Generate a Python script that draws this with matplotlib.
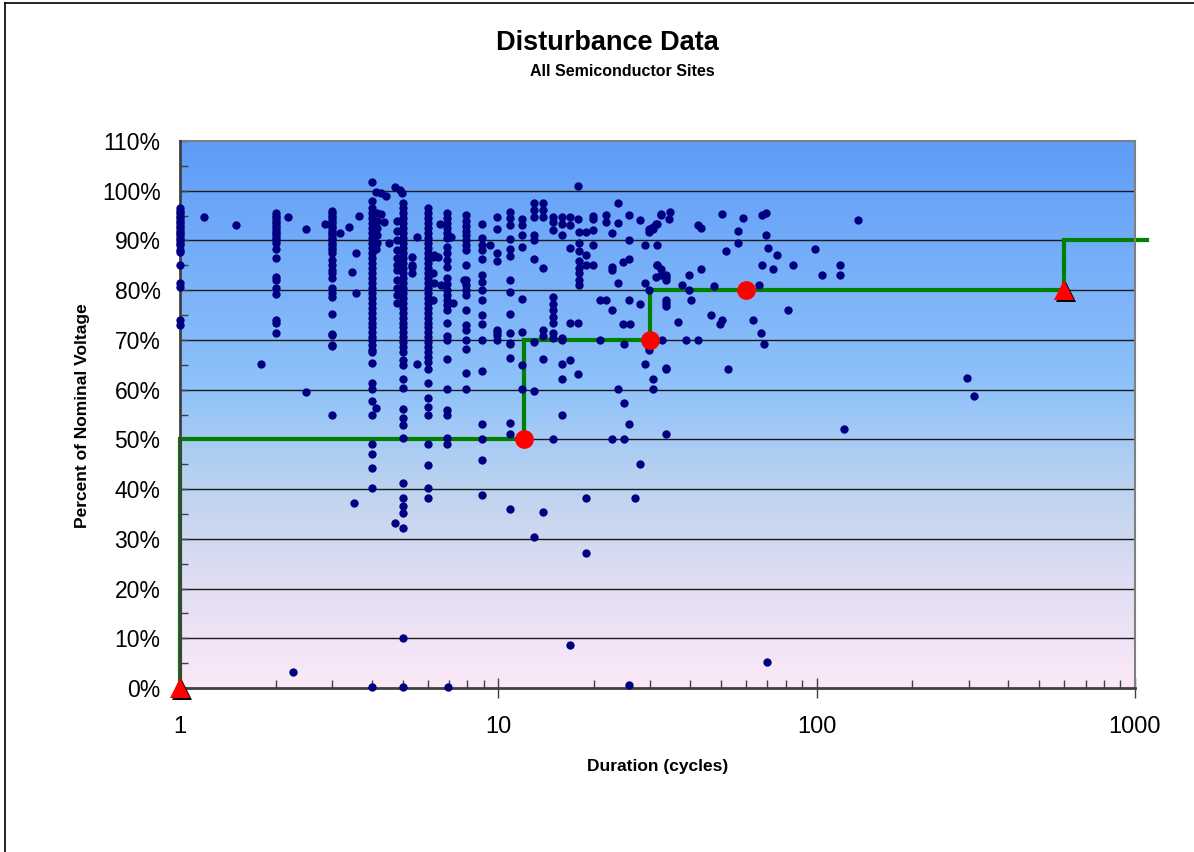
import matplotlib
matplotlib.use("Agg")
import matplotlib.pyplot as plt
import numpy as np
from matplotlib.colors import LinearSegmentedColormap
from matplotlib.lines import Line2D
from matplotlib.transforms import offset_copy
from matplotlib.ticker import FixedLocator, NullFormatter

plt.rcParams['font.family'] = ['Liberation Sans', 'DejaVu Sans']

# ---------------- data ----------------
title = "Disturbance Data"
subtitle = "All Semiconductor Sites"
x_label = "Duration (cycles)"
y_label = "Percent of Nominal Voltage"
x_tick_values = [1, 10, 100, 1000]
x_tick_labels = ["1", "10", "100", "1000"]
y_tick_values = [0, 10, 20, 30, 40, 50, 60, 70, 80, 90, 100, 110]
y_tick_labels = ["0%", "10%", "20%", "30%", "40%", "50%", "60%", "70%", "80%", "90%", "100%", "110%"]

# events on whole-cycle columns (voltage %)
col1_v = [96.5, 96, 95.5, 95, 94.5, 94, 93.5, 93, 92.5, 92, 91.5, 91, 90.5, 90, 89.5, 89,
          88, 87.7, 85, 81.4, 80.6, 74, 73]
col2_v = [95.5, 95, 94.5, 94, 93.5, 93, 92.5, 92, 91.5, 91, 90.5, 90, 89.5, 88.3, 86.5,
          82.6, 82, 80.4, 79.2, 74, 73.4, 71.4]
col3_v = [96, 95.5, 95, 94.5, 94, 93.5, 93, 92.5, 92, 91.5, 91, 90.5, 90, 89.5, 89, 88.5,
          88, 87.5, 86, 85, 84, 83.4, 82.4, 80.4, 79.4, 78.6, 75.2, 71.2, 71, 69, 68.8, 54.9]
col4_v = [101.8, 98.0, 96.5, 95.5, 94.5, 93.5, 92.5, 91.5, 90.5, 89.5, 88.5, 87.5, 86.5,
          85.5, 84.5, 83.5, 82.5, 81.5, 80.5, 79.5, 78.5, 77.5, 76.5, 75.5, 74.5, 73.5,
          72.5, 71.6, 70.6, 70, 69, 68, 67.6, 65.3, 61.3, 60.1, 57.8, 55, 49, 47, 44.2,
          40.2, 0.3]
col5_v = [97.5, 96.5, 95.5, 94.5, 93.5, 92.5, 91.5, 90.5, 89.5, 88.5, 87.5, 86.5, 85.5,
          84.5, 83.5, 82.5, 81.5, 80.5, 79.5, 78.5, 77.5, 76.5, 75.5, 74.5, 73.5, 72.5,
          71.5, 70.5, 69.5, 68.5, 67.5, 66, 65, 62.1, 60.3, 56.1, 54.3, 52.9, 50.3, 41.3,
          38.2, 36.5, 35.2, 32.2, 10.1, 0.3]
col6_v = [96.5, 95.5, 94.5, 93.5, 92.5, 91.5, 90.5, 89.5, 88.5, 87.5, 86.5, 85.5, 84.5,
          83.5, 82.5, 81.5, 80.5, 79.5, 78.5, 77.5, 76.5, 75.5, 74.5, 73.5, 72.5, 71.5,
          70.5, 69.5, 68.5, 67.5, 66.5, 65.5, 64.1, 61.3, 58.3, 56.5, 54.9, 49.1, 44.8,
          40.3, 38.3]

# scattered events (duration in cycles, voltage %)
other_dur = [1.19, 1.5, 1.8, 2.18, 2.26, 2.49, 2.49, 2.85, 3.18, 3.39, 3.46, 3.52, 3.56, 3.56, 3.66,
             4.12, 4.27, 4.43, 4.27, 4.37, 4.14, 4.14, 4.14, 4.54, 4.14, 4.15, 4.15, 4.15, 4.15, 4.15,
             4.73, 4.9, 4.97, 4.73,
             4.8, 4.8, 4.8, 4.8, 4.8, 4.8, 4.8, 4.8, 4.8, 4.8, 4.8,
             5.34, 5.34, 5.34, 5.34, 5.55, 5.55,
             6.25, 6.45, 6.25, 6.25, 6.55, 6.6, 6.3, 6.3,
             6.9, 6.9, 6.9, 6.9, 6.9, 6.9, 6.9, 6.9, 6.9, 6.9, 6.9, 6.9, 6.9, 6.9, 6.9, 6.9, 6.9,
             6.9, 6.9, 6.9, 6.9, 6.9, 6.9, 6.9, 6.9, 6.9, 6.93, 7.12, 7.2,
             7.9, 7.9, 7.9, 7.9, 7.9, 7.9, 7.9, 7.9, 7.9, 7.9, 7.9, 7.9, 7.9, 7.9, 7.9, 7.9, 7.9,
             7.9, 7.9, 7.9, 7.78,
             8.9, 8.9, 8.9, 8.9, 8.9, 8.9, 8.9, 8.9, 8.9, 8.9, 8.9, 8.9, 8.9, 8.9, 8.9, 8.9, 8.9, 9.4,
             9.9, 9.9, 9.9, 9.9, 9.9, 9.9, 9.9, 9.9,
             10.9, 10.9, 10.9, 10.9, 10.9, 10.9, 10.9, 10.9, 10.9, 10.9, 10.9, 10.9, 10.9, 10.9, 10.9,
             10.9,
             11.9, 11.9, 11.9, 11.9, 11.9, 11.9, 11.9, 11.9,
             12.9, 12.9, 12.9, 12.9, 12.9, 12.9, 12.9, 12.9, 12.9,
             13.8, 13.8, 13.8, 13.8, 13.8, 13.8, 13.8, 13.8,
             14.8, 14.8, 14.8, 14.8, 14.8, 14.8, 14.8, 14.8, 14.8, 14.8, 14.8,
             15.8, 15.8, 15.8, 15.8, 15.8, 15.8, 15.8, 15.8,
             16.8, 16.8, 16.8, 16.8, 16.8, 16.8,
             17.8, 17.8, 17.9, 17.9, 17.9, 17.9, 17.9, 17.9, 17.9, 17.9, 17.8, 17.8,
             18.8, 18.8, 18.8, 18.8, 18.8,
             19.8, 19.8, 19.8, 19.8, 19.8,
             20.8, 20.8, 21.8, 21.8, 21.8,
             22.8, 22.8, 22.8, 22.8, 22.8,
             23.8, 23.8, 23.8, 23.8,
             24.7, 24.7, 24.9, 24.9, 24.9,
             25.7, 25.7, 25.7, 25.7, 25.7, 25.7,
             26.0, 26.8, 27.8, 27.8, 27.8, 28.9, 28.9, 28.9,
             29.7, 29.8, 29.8, 29.7, 29.8, 30.5, 30.5, 30.6, 30.6,
             31.3, 31.5, 31.5, 31.5, 31.5, 31.3,
             32.5, 32.5, 32.5, 32.5, 32.7,
             33.6, 33.6, 33.6, 33.6, 33.6, 33.6, 33.6, 33.6, 33.6,
             34.4, 34.7, 36.6, 37.7, 39.0, 39.6, 39.6, 40.3,
             42.4, 43.4, 43.4, 42.5, 46.6, 47.5, 49.6, 50.6, 50.6, 51.9, 52.8,
             56.8, 56.8, 58.5, 63.2, 66.0, 66.7, 67.3, 67.5, 68.1, 69.5, 69.5, 70.0, 70.4,
             73.1, 75.2, 81.2, 84.1, 98.9, 103.9, 118.6, 118.6, 122.3, 135, 297, 311]
other_v = [94.8, 93.1, 65.2, 94.8, 3.2, 92.4, 59.5, 93.4, 91.4, 92.8, 83.7, 37.3, 87.4, 79.4, 95.0,
           99.8, 99.6, 98.9, 95.4, 93.8, 92.3, 91.1, 88.3, 89.4, 56.4, 95.5, 94.0, 92.5, 91.0, 89.5,
           100.8, 100.1, 99.5, 33.1,
           94, 92, 90, 88, 86.5, 85, 84, 82, 80.5, 79, 77.5,
           86.7, 85.0, 83.4, 84.7, 90.7, 65.2,
           86.7, 86.6, 83.4, 78.0, 93.4, 81.0, 87.0, 81.4,
           95.5, 94.5, 93.5, 92.5, 91.5, 90.5, 88.7, 87.5, 86.0, 84.7, 82.4, 81.2, 80.0, 79.0, 78.0,
           77.0, 76.0, 73.3, 70.8, 70.0, 66.1, 60.1, 56.0, 54.9, 50.2, 49.0, 0.3, 90.7, 77.4,
           95.1, 94.0, 93.0, 92.0, 91.0, 90.0, 89.0, 88.1, 85.1, 82.0, 81.0, 80.0, 79.0, 76.0, 72.0,
           70.0, 68.2, 63.3, 60.1, 73.0, 82.0,
           93.4, 90.4, 89.1, 88.1, 86.2, 83.0, 81.7, 80.0, 78.0, 75.1, 73.1, 70.0, 63.7, 53.0, 50.1,
           45.8, 38.8, 89.1,
           94.8, 92.4, 87.4, 85.9, 72.0, 70.0, 71.6, 71.0,
           95.8, 94.5, 93.1, 90.2, 88.2, 86.9, 82.0, 79.7, 75.3, 71.4, 69.4, 66.3, 53.2, 51.0, 35.9,
           69.2,
           94.4, 93.1, 91.1, 88.7, 78.3, 71.6, 65.0, 60.1,
           97.5, 96.2, 94.8, 91.1, 90.1, 86.2, 69.6, 59.8, 30.3,
           97.5, 96.2, 94.8, 84.5, 72.0, 70.7, 66.1, 35.4,
           94.8, 93.8, 92.1, 78.7, 77.3, 76.0, 74.7, 73.3, 71.3, 70.3, 50.1,
           94.8, 93.4, 91.1, 70.3, 70.0, 65.2, 62.1, 54.9,
           94.8, 93.1, 88.4, 73.3, 66.0, 8.6,
           101.0, 94.4, 91.8, 89.5, 87.8, 85.8, 84.5, 83.5, 82.0, 81.0, 73.3, 63.2,
           91.8, 87.1, 85.1, 38.3, 27.1,
           95.0, 94.3, 92.1, 89.1, 85.1,
           78.0, 70.0, 95.1, 93.8, 78.0,
           91.4, 84.7, 84.0, 76.0, 50.1,
           97.6, 93.6, 81.4, 60.1,
           85.7, 73.2, 69.2, 57.3, 50.1,
           95.1, 90.1, 86.2, 78.0, 53.0, 0.7,
           73.2, 38.3, 94.1, 77.2, 45.0, 89.1, 81.4, 65.2,
           92.4, 91.8, 80.0, 68.3, 68.0, 92.8, 92.4, 62.1, 60.1,
           93.4, 93.3, 89.1, 85.1, 85.1, 82.7,
           95.3, 95.1, 84.2, 83.0, 70.0,
           82.7, 83.0, 82.0, 78.0, 76.8, 77.4, 64.1, 64.3, 51.0,
           94.4, 95.8, 73.7, 81.0, 70.0, 83.0, 80.0, 78.0,
           93.1, 92.6, 84.2, 70.0, 75.1, 80.8, 73.1, 95.3, 74.0, 87.9, 64.1,
           91.9, 89.5, 94.6, 74.0, 81.1, 71.4, 85.1, 95.1, 69.2, 95.6, 91.0, 5.3, 88.4,
           84.2, 87.0, 76.0, 85.1, 88.2, 83.0, 85.1, 83.0, 52.1, 94.1, 62.4, 58.7]

# SEMI F47 ride-through curve
curve_dur = [1, 1, 12, 12, 30, 30, 600, 600, 1094]
curve_v = [0, 50, 50, 70, 70, 80, 80, 90, 90]
circle_dur = [12, 30, 60]
circle_v = [50, 70, 80]
tri_dur = [1, 600]
tri_v = [0, 80]

# ---------------- figure ----------------
W, H = 1194, 852
fig = plt.figure(figsize=(W / 100, H / 100), dpi=100)
fig.patch.set_facecolor("white")

L, R, T, B = 180, 1135, 141, 688
ax = fig.add_axes([L / W, 1 - B / H, (R - L) / W, (B - T) / H])
ax.set_xscale("log")
ax.set_xlim(1, 1000)
ax.set_ylim(0, 110)

# background gradient
cmap = LinearSegmentedColormap.from_list(
    "bg", [(0.0, "#FCE9F8"), (0.18, "#E2DEF3"), (0.36, "#BED3EF"),
           (0.55, "#8FC2FA"), (1.0, "#5E9CF8")])
grad = np.linspace(0, 1, 256).reshape(-1, 1)
ax.imshow(grad, cmap=cmap, origin="lower", aspect="auto",
          extent=[0, 1, 0, 1], transform=ax.transAxes, zorder=0)

# gridlines
for yv in y_tick_values[1:-1]:
    ax.axhline(yv, color="#1a1a1a", lw=1.0, zorder=1)

# curve
ax.plot(curve_dur, curve_v, color="#008000", lw=3.0, zorder=2, clip_on=False,
        solid_joinstyle="miter")

# scatter
navy = "#000080"
ms = 6.0
kw = dict(color=navy, ms=ms, mew=0, zorder=5, clip_on=False, linestyle="none", marker="o")
ax.plot([1] * len(col1_v), col1_v, **kw)
ax.plot([2] * len(col2_v), col2_v, **kw)
ax.plot([3] * len(col3_v), col3_v, **kw)
ax.plot([4] * len(col4_v), col4_v, **kw)
ax.plot([5] * len(col5_v), col5_v, **kw)
ax.plot([6] * len(col6_v), col6_v, **kw)
ax.plot(other_dur, other_v, **kw)

# red markers
ax.plot(circle_dur, circle_v, "o", color="#FF0000", ms=13.5, mew=0, zorder=6)
shadow = offset_copy(ax.transData, fig=fig, x=2, y=-2, units="dots")
ax.plot(tri_dur, tri_v, "^", color="black", ms=15, mew=0, zorder=6,
        transform=shadow, clip_on=False)
ax.plot(tri_dur, tri_v, "^", color="#FF0000", ms=15, mew=0, zorder=7, clip_on=False)

# axes styling
for side in ["top", "right"]:
    ax.spines[side].set_color("#808080")
    ax.spines[side].set_linewidth(1.5)
for side in ["left", "bottom"]:
    ax.spines[side].set_color("#404040")
    ax.spines[side].set_linewidth(2.0)
    ax.spines[side].set_zorder(4)

ax.set_xticks(x_tick_values)
ax.set_xticklabels(x_tick_labels, fontsize=17)
ax.xaxis.set_minor_locator(FixedLocator(
    [m * 10 ** k for k in range(3) for m in range(2, 10)]))
ax.xaxis.set_minor_formatter(NullFormatter())
ax.tick_params(axis="x", which="major", direction="inout", length=14, width=1,
               color="#404040", pad=13)
ax.tick_params(axis="x", which="minor", direction="in", length=6, width=1,
               color="#404040")

ax.set_yticks(y_tick_values)
ax.set_yticklabels(y_tick_labels, fontsize=16.5)
ax.yaxis.set_minor_locator(FixedLocator([5 + 10 * k for k in range(11)]))
ax.tick_params(axis="y", which="major", direction="in", length=6, width=1,
               color="#404040", pad=14)
ax.tick_params(axis="y", which="minor", direction="in", length=6, width=1,
               color="#404040")

# texts
fig.text(607 / W, 1 - 43 / H, title, ha="center", va="center",
         fontsize=19.5, fontweight="bold")
fig.text(622 / W, 1 - 71 / H, subtitle, ha="center", va="center",
         fontsize=11.5, fontweight="bold")
fig.text(658 / W, 1 - 767 / H, x_label, ha="center", va="center",
         fontsize=12.5, fontweight="bold")
fig.text(83 / W, 1 - 416 / H, y_label, ha="center", va="center",
         rotation=90, fontsize=12.5, fontweight="bold")

# chart-area frame (left and top edges)
fig.add_artist(Line2D([5 / W, 5 / W], [0, 1 - 3 / H], color="black", lw=1.2))
fig.add_artist(Line2D([5 / W, 1], [1 - 3 / H, 1 - 3 / H], color="black", lw=1.2))

fig.savefig("out.png", dpi=100)
